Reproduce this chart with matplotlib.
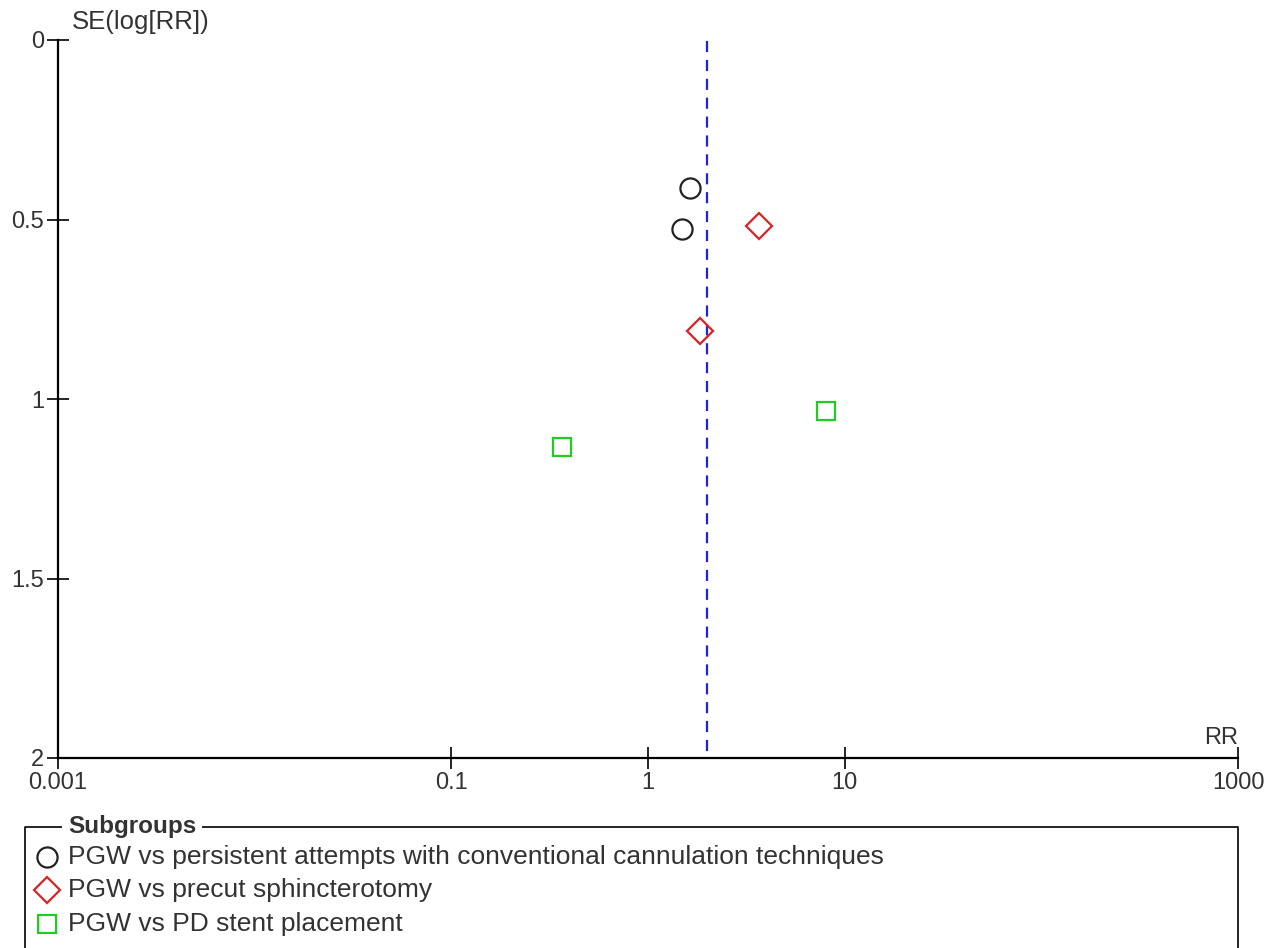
import matplotlib
matplotlib.use("Agg")
import matplotlib.pyplot as plt

plt.rcParams['font.family'] = ['Liberation Sans', 'DejaVu Sans']

# Data
circle_rr = [1.63, 1.49]
circle_se = [0.412, 0.526]
diamond_rr = [3.67, 1.84]
diamond_se = [0.518, 0.81]
square_rr = [8.0, 0.366]
square_se = [1.033, 1.134]
pooled_rr = 2.0
xticks = [0.001, 0.1, 1, 10, 1000]
xtick_labels = ["0.001", "0.1", "1", "10", "1000"]
yticks = [0, 0.5, 1, 1.5, 2]
ytick_labels = ["0", "0.5", "1", "1.5", "2"]
legend_labels = ["PGW vs persistent attempts with conventional cannulation techniques",
                 "PGW vs precut sphincterotomy",
                 "PGW vs PD stent placement"]

W, H = 1277, 948
fig = plt.figure(figsize=(W/100, H/100), dpi=100)
ax = fig.add_axes([58/W, 1-758/H, (1238-58)/W, (758-40)/H])

txt = '#333333'
fs_tick = 17
fs = 18.5

ax.set_xscale('log')
ax.set_xlim(0.001, 1000)
ax.set_ylim(2, 0)
ax.minorticks_off()
ax.set_xticks(xticks)
ax.set_xticklabels(xtick_labels)
ax.set_yticks(yticks)
ax.set_yticklabels(ytick_labels)
ax.xaxis.set_minor_locator(matplotlib.ticker.NullLocator())
for s in ['top', 'right']:
    ax.spines[s].set_visible(False)
for s in ['left', 'bottom']:
    ax.spines[s].set_linewidth(1.6)
    ax.spines[s].set_color('black')
ax.tick_params(axis='both', direction='inout', length=16, width=1.2, colors='black',
               labelcolor=txt, labelsize=fs_tick)
ax.tick_params(axis='x', pad=2)
ax.tick_params(axis='y', pad=2)

ax.axvline(pooled_rr, color='#2222dd', lw=1.6, ls=(0, (5, 3.5)), ymin=0.01, ymax=1)

ax.plot(circle_rr, circle_se, 'o', ms=14.5, mfc='none', mec='#222222', mew=1.6, ls='none', clip_on=False)
ax.plot(diamond_rr, diamond_se, 'D', ms=13.5, mfc='none', mec='#dd2222', mew=1.6, ls='none', clip_on=False)
ax.plot(square_rr, square_se, 's', ms=13.5, mfc='none', mec='#22cc22', mew=1.6, ls='none', clip_on=False)

fig.text(72/W, 1-22/H, "SE(log[RR])", color=txt, fontsize=fs, ha='left', va='center')
fig.text(1238/W, 1-738/H, "RR", color=txt, fontsize=fs_tick, ha='right', va='center')

# Legend box
ov = fig.add_axes([0, 0, 1, 1])
ov.set_xlim(0, W)
ov.set_ylim(H, 0)
ov.axis('off')
ov.plot([25, 25, 1238, 1238], [960, 827, 827, 960], color='black', lw=1.2, clip_on=False)
ov.text(68, 826, "Subgroups", fontsize=17.5, fontweight='bold', color=txt, ha='left', va='center',
        bbox=dict(facecolor='white', edgecolor='none', pad=4))
ys = [857, 890, 924]
markers = [('o', '#222222', 14.5), ('D', '#dd2222', 13.5), ('s', '#22cc22', 12.5)]
for y, (m, c, ms), lab in zip(ys, markers, legend_labels):
    ov.plot([47], [y], m, ms=ms, mfc='none', mec=c, mew=1.6)
    ov.text(68, y, lab, fontsize=19, color=txt, ha='left', va='center')

fig.savefig("out.png", dpi=100)
